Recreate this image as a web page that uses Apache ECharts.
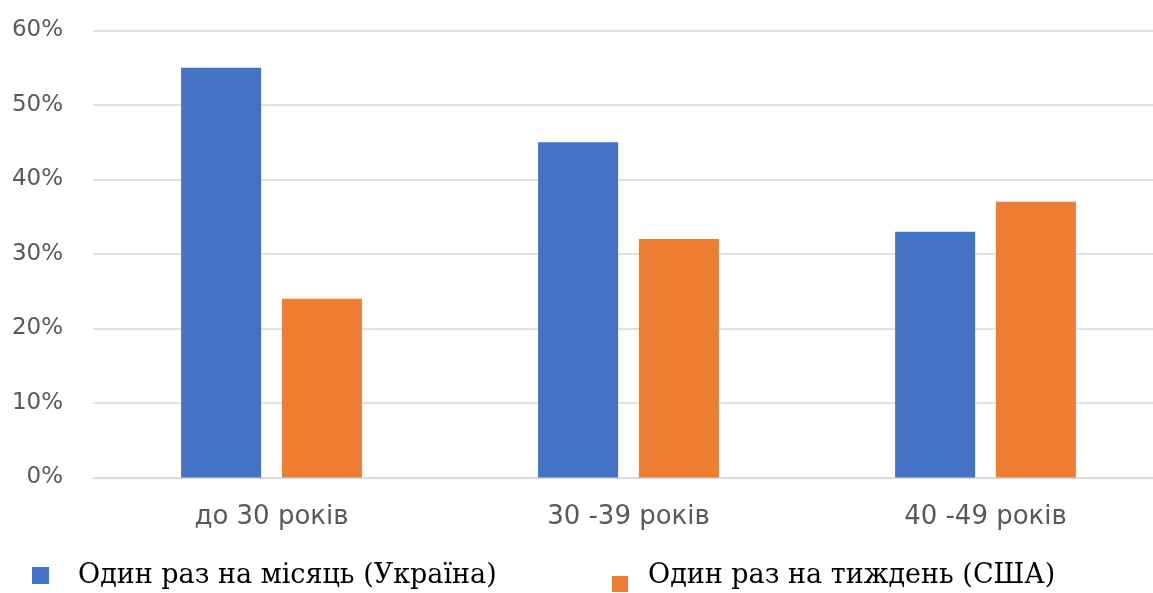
<!DOCTYPE html>
<html>
<head>
<meta charset="utf-8">
<script src="https://cdn.jsdelivr.net/npm/echarts@6/dist/echarts.min.js"></script>
<style>
html,body{margin:0;padding:0;background:#fff;}
#chart{width:1153px;height:593px;}
</style>
</head>
<body>
<div id="chart"></div>
<script>
const categories = ['до 30 років', '30 -39 років', '40 -49 років'];
const seriesNames = ['Один раз на місяць (Україна)', 'Один раз на тиждень (США)'];
const ukraineValues = [55, 45, 33];
const usaValues = [24, 32, 37];
const yTicks = { min: 0, max: 60, interval: 10 };

const chart = echarts.init(document.getElementById('chart'), null, { renderer: 'canvas' });
const sans = '"DejaVu Sans", sans-serif';
const serif = '"DejaVu Serif", serif';

chart.setOption({
  animation: false,
  backgroundColor: '#ffffff',
  grid: { left: 93, top: 30.5, width: 1071, height: 447, containLabel: false, outerBoundsMode: 'none' },
  legend: [
    {
      data: [seriesNames[0]],
      left: 27, top: 555.5,
      icon: 'rect', itemWidth: 17, itemHeight: 17,
      textStyle: { fontFamily: serif, fontSize: 27, color: '#000', lineHeight: 30, padding: [0, 0, 0, 24] }
    },
    {
      data: [seriesNames[1]],
      left: 607, top: 554,
      icon: 'path://M0,0 L16,0 Z M0,17 L16,17 L16,33 L0,33 Z', itemWidth: 16, itemHeight: 33,
      textStyle: { fontFamily: serif, fontSize: 27, color: '#000', lineHeight: 30, padding: [0, 0, 0, 15] }
    }
  ],
  xAxis: {
    type: 'category',
    data: categories,
    axisLine: { show: true, lineStyle: { color: '#d9d9d9', width: 1.5 } },
    axisTick: { show: false },
    axisLabel: { fontFamily: sans, fontSize: 26, color: '#595959', margin: 27 }
  },
  yAxis: {
    type: 'value',
    min: yTicks.min, max: yTicks.max, interval: yTicks.interval,
    axisLine: { show: false },
    axisTick: { show: false },
    splitLine: { lineStyle: { color: '#d9d9d9', width: 1.5 } },
    axisLabel: { formatter: '{value}%', fontFamily: sans, fontSize: 23, color: '#595959', margin: 30 }
  },
  series: [
    {
      name: seriesNames[0], type: 'bar', data: ukraineValues,
      barWidth: 80, barGap: '26%',
      itemStyle: { color: '#4472C4' }
    },
    {
      name: seriesNames[1], type: 'bar', data: usaValues,
      barWidth: 80, barGap: '26%',
      itemStyle: { color: '#ED7D31' }
    }
  ]
});
</script>
</body>
</html>
